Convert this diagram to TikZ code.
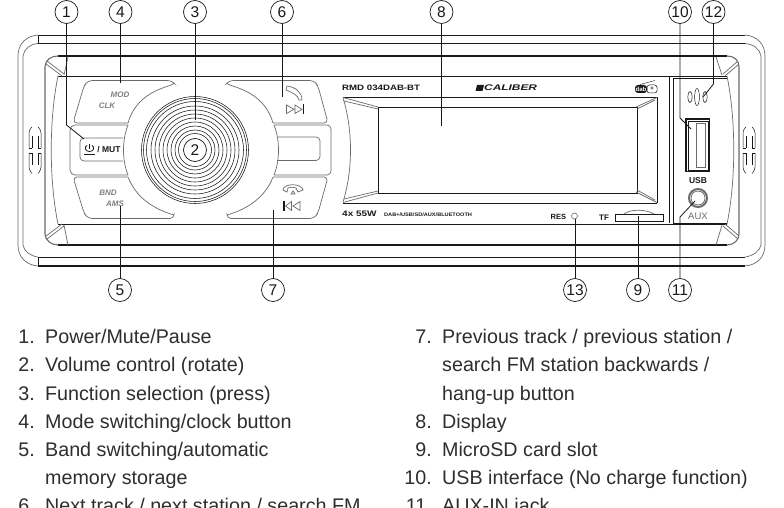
\documentclass[tikz,border=0pt]{standalone}
\usepackage{fontspec}
\usepackage{graphicx}
\setmainfont{Liberation Sans}
\definecolor{ink}{gray}{0.1}
\definecolor{txt}{gray}{0.18}
\definecolor{btn}{gray}{0.42}
\definecolor{lab}{gray}{0.5}
\newcommand{\wide}[2]{\scalebox{#1}[1]{#2}}
\tikzset{
  mk/.style={draw=ink,circle,line width=0.7pt,minimum size=23pt,inner sep=0pt,fill=white,font=\fontsize{15.5}{15.5}\selectfont,text=ink},
  lead/.style={draw=ink,line width=0.8pt},
  hair/.style={draw=ink,line width=0.8pt},
  heavy/.style={draw=ink,line width=1.8pt},
  soft/.style={draw=btn,line width=0.7pt},
  softb/.style={draw=btn,line width=1.1pt},
  num/.style={anchor=base east,inner sep=0pt,text=txt,font=\fontsize{19.7}{19.7}\selectfont},
  item/.style={anchor=base west,inner sep=0pt,text=txt,font=\fontsize{19.7}{19.7}\selectfont},
  tiny/.style={inner sep=0pt,text=ink},
  btncap/.style={inner sep=0pt,text=lab,font=\fontsize{8}{8}\itshape\bfseries\selectfont}
}
\begin{document}
\begin{tikzpicture}[x=1pt,y=-1pt]
\useasboundingbox (0,0) rectangle (784,508);
\clip (0,0) rectangle (784,508);
\fill[white] (0,0) rectangle (784,508);
% outer frame
\draw[hair] (38,35) -- (745,35);
\draw[hair] (38,43.5) -- (745,43.5);
\draw[hair] (38,257) -- (745,257);
\draw[heavy] (38,266) -- (745,266);
\draw[hair] (38,35) -- (38,43.5) (38,257) -- (38,266);
\draw[soft] (38,35) .. controls (26,36) and (18,44) .. (18,56) -- (18,245) .. controls (18,257) and (26,265) .. (38,266);
\draw[soft] (38,43.5) .. controls (30,44) and (24,49) .. (23,56) -- (23,245) .. controls (24,251) and (30,256) .. (38,257);
\draw[soft] (745,35) .. controls (757,36) and (765,44) .. (765,56) -- (765,245) .. controls (765,257) and (757,265) .. (745,266);
\draw[soft] (745,43.5) .. controls (753,44) and (760,49) .. (761,56) -- (761,245) .. controls (760,251) and (753,256) .. (745,257);
% bezel
\draw[heavy] (58,56) -- (727,56);
\draw[heavy] (58,245) -- (727,245);
\draw[hair] (58,76) -- (727,76);
\draw[hair] (58,224) -- (727,224);
\draw[softb] (58,56) .. controls (51,56) and (45,60) .. (45,67) -- (45,234) .. controls (45,240) and (51,245) .. (58,245);
\draw[soft] (58,76) .. controls (49,120) and (49,180) .. (58,224);
\draw[softb] (727,56) .. controls (734,56) and (739,60) .. (739,67) -- (739,234) .. controls (739,240) and (734,245) .. (727,245);
\draw[soft] (727,76) .. controls (736,120) and (736,180) .. (727,224);
\draw[soft] (46,64) -- (62,76) (47,61) -- (64,74) (68,57) -- (64,75);
\draw[soft] (46,236) -- (62,224) (47,239) -- (64,226) (68,245) -- (64,225);
\draw[soft] (739,64) -- (725,76) (738,61) -- (723,74) (716,57) -- (722,75);
\draw[soft] (739,236) -- (725,224) (738,239) -- (723,226) (716,245) -- (722,225);
% panel separators
\draw[hair] (669,77) -- (669,223);
\draw[hair] (673,78) -- (727,78);
\draw[hair] (673,78) -- (673,223);
\draw[hair] (673,223) -- (727,223);
% side slots
\foreach \sx in {29,743}{
  \draw[ink,line width=0.5pt,rounded corners=3pt] (\sx,148) -- (\sx,130) -- (\sx+3,127) (\sx+12,148) -- (\sx+12,130) -- (\sx+9,127);
  \draw[ink,line width=0.5pt] (\sx+3,136) -- (\sx+3,148) (\sx+9,136) -- (\sx+9,148) (\sx,148) -- (\sx+3,148) (\sx+9,148) -- (\sx+12,148);
  \draw[ink,line width=0.5pt,rounded corners=3pt] (\sx,153) -- (\sx,170) -- (\sx+3,173.5) (\sx+12,153) -- (\sx+12,170) -- (\sx+9,173.5);
  \draw[ink,line width=0.5pt] (\sx+3,153) -- (\sx+3,165) (\sx+9,153) -- (\sx+9,165) (\sx,153) -- (\sx+3,153) (\sx+9,153) -- (\sx+12,153);
}
% display
\draw[hair] (343,97.5) -- (657,97.5);
\draw[hair] (343,203) -- (657,203);
\draw[hair] (378,107.5) rectangle (637,193);
\draw[hair] (657,97.5) -- (657,203);
\draw[soft] (343,98) .. controls (353,130) and (353,170) .. (343,202);
\draw[soft] (343,97.5) -- (378,107) (344,101) -- (378,109);
\draw[soft] (343,202.5) -- (378,193) (344,199) -- (378,191);
\draw[soft] (657,97.5) -- (636,107) (655,100) -- (637,109);
\draw[soft] (657,202.5) -- (636,192) (655,200) -- (637,190);
% buttons
\draw[soft,rounded corners=4pt] (174,83) -- (172,80.5) -- (88,80.5) -- (84,86) -- (73,123) -- (128,123);
\draw[soft] (174,83) .. controls (174,87) and (138,88) .. (128,123);
\draw[soft,rounded corners=4pt] (174,215) -- (174,218.5) -- (88,218.5) -- (84,213) -- (73,177) -- (128,177);
\draw[soft] (174,215) .. controls (150,208) and (135,195) .. (128,177);
\draw[soft,rounded corners=4pt] (227,83) -- (229,80.5) -- (314,80.5) -- (318,86) -- (328,123) -- (273,123);
\draw[soft] (227,83) .. controls (227,87) and (263,88) .. (273,123);
\draw[soft,rounded corners=4pt] (227,215) -- (227,218.5) -- (314,218.5) -- (318,213) -- (328,177) -- (273,177);
\draw[soft] (227,215) .. controls (251,208) and (266,195) .. (273,177);
% centre bar
\draw[soft,rounded corners=5pt] (128,125) -- (70,125) -- (70,175) -- (128,175);
\draw[soft] (128,125) .. controls (122,140) and (122,160) .. (128,175);
\draw[soft,rounded corners=4pt] (123,138) -- (80,138) -- (80,161) -- (123,161);
\draw[soft,rounded corners=4pt] (274,125) -- (331,125) -- (331,175) -- (274,175);
\draw[soft] (274,125) .. controls (280,140) and (280,160) .. (274,175);
\draw[soft,rounded corners=4pt] (278,137) -- (320,137) -- (320,160.5) -- (277,160.5);
% knob
\foreach \rr in {53.5,51.5,48.5,44,40,36,32,28,24,20,16.5}{
  \draw[draw=ink,line width=0.55pt] (195,150) circle[radius=\rr];
}
% button captions
\node[btncap] (tmod) at (120,95) {MOD};
\node[btncap] (tclk) at (107,105.5) {CLK};
\node[btncap] (tbnd) at (108,192.5) {BND};
\node[btncap] (tams) at (115,204) {AMS};
\node[tiny,font=\fontsize{8.5}{8.5}\bfseries\selectfont] (tmut) at (109,150) {/ MUT};
% power icon
\draw[ink,line width=0.8pt] (87,145.5) .. controls (84,147) and (85,151.5) .. (89.5,151.5) .. controls (94,151.5) and (95,147) .. (92,145.5);
\draw[ink,line width=0.8pt] (89.5,143.5) -- (89.5,148.5) (84,154) -- (95,154);
% next icons
\draw[soft] (287,86) .. controls (295,87) and (302,92) .. (302,100) -- (299,100) .. controls (298,95) and (293,93) .. (286,90) -- cycle;
\draw[soft] (286.5,105) -- (286.5,113.5) -- (294,109.3) -- cycle (295,105) -- (295,113.5) -- (302,109.3) -- cycle;
\draw[ink,line width=1.5pt] (303.5,104.5) -- (303.5,114);
% prev icons
\draw[soft] (283,190) .. controls (283,183) and (302,183) .. (303,190) -- (298,192) -- (296,188) .. controls (292,187) and (290,187) .. (288,188) -- (287,192) -- cycle;
\draw[soft] (293,191) -- (291,194) -- (295,194) -- cycle;
\draw[ink,line width=1.5pt] (284,201) -- (284,211);
\draw[soft] (291.5,201.5) -- (291.5,210.5) -- (285.5,206) -- cycle (300,201.5) -- (300,210.5) -- (293,206) -- cycle;
% front print
\node[tiny,anchor=west,font=\fontsize{7.8}{7.8}\bfseries\selectfont] (tmodel) at (342,88) {\wide{1.24}{RMD 034DAB-BT}};
\node[tiny,anchor=west,font=\fontsize{8.2}{8.2}\bfseries\itshape\selectfont] (tbrand) at (484,88) {\wide{1.45}{CALIBER}};
\fill[ink] (477,85) -- (484,85) -- (482.5,91) -- (475.5,91) -- cycle;
\fill[ink,rounded corners=3pt] (635,85) rectangle (647,93);
\draw[ink,line width=0.5pt,rounded corners=2.5pt] (647,85) rectangle (657,93);
\draw[ink,line width=0.4pt] (640,84.5) -- (655,80.5);
\node[tiny,text=white,font=\fontsize{6}{6}\bfseries\selectfont] (tdab) at (641,89) {dab};
\node[tiny,font=\fontsize{6}{6}\bfseries\selectfont] (tplus) at (652,89) {+};
\node[tiny,anchor=west,font=\fontsize{8}{8}\bfseries\selectfont] (tpow) at (342,213.5) {\wide{1.25}{4x 55W}};
\node[tiny,anchor=west,font=\fontsize{5}{5}\bfseries\selectfont] (tsrc) at (384,214.5) {\wide{1.12}{DAB+/USB/SD/AUX/BLUETOOTH}};
\node[tiny,anchor=west,font=\fontsize{7.5}{7.5}\bfseries\selectfont] (tres) at (550.5,216.5) {RES};
\draw[btn,line width=0.6pt] (574.5,216) circle[radius=3];
\node[tiny,anchor=west,font=\fontsize{8}{8}\bfseries\selectfont] (ttf) at (599,218) {TF};
\draw[hair] (615,214.5) rectangle (663.5,221.5);
\draw[soft] (624,214) .. controls (630,209) and (646,209) .. (654,214);
% usb and aux
\draw[ink,line width=1.7pt] (686,119) rectangle (709.5,171.5);
\draw[ink,line width=0.5pt] (687.8,121) rectangle (707.8,170);
\draw[soft] (696,123) rectangle (705,167.5);
\node[tiny,font=\fontsize{8.5}{8.5}\bfseries\selectfont] (tusb) at (698,181) {USB};
\draw[btn,line width=2pt] (698,198) circle[radius=9];
\draw[ink,line width=0.4pt] (698,198) circle[radius=7];
\node[tiny,text=btn,font=\fontsize{9.5}{9.5}\selectfont] (taux) at (698,216.5) {AUX};
% small grille
\draw[ink,line width=0.5pt] (690,97) ellipse[x radius=2.2,y radius=5.5];
\draw[ink,line width=0.5pt] (697,97) ellipse[x radius=2.4,y radius=8.5];
\draw[ink,line width=0.5pt] (705,97) ellipse[x radius=2.2,y radius=5.5];
% markers
\node[mk] (m1) at (66.5,12) {1};
\node[mk] (m4) at (120.5,12) {4};
\node[mk] (m3) at (195,12) {3};
\node[mk] (m6) at (282,12) {6};
\node[mk] (m8) at (441.5,12) {8};
\node[mk] (m10) at (680,12) {10};
\node[mk] (m12) at (713.5,12) {12};
\node[mk] (m5) at (120,290) {5};
\node[mk] (m7) at (273,290) {7};
\node[mk] (m13) at (575,290) {13};
\node[mk] (m9) at (638,290) {9};
\node[mk] (m11) at (680,290) {11};
\node[mk] (m2) at (195,150) {2};
% connectors
\coordinate (e1a) at (66.5,125); \coordinate (e1) at (84,139);
\coordinate (e4) at (120.5,83); \coordinate (e3) at (195,120);
\coordinate (e6) at (282,97); \coordinate (e8) at (441.5,126);
\coordinate (e10a) at (680,118); \coordinate (e10) at (691,129);
\coordinate (e12a) at (713.5,84); \coordinate (e12) at (703,97);
\coordinate (e5) at (120,206); \coordinate (e7) at (273,210);
\coordinate (e13) at (575,219); \coordinate (e9) at (638,216);
\coordinate (e11a) at (680,217); \coordinate (e11) at (695,201);
\draw[lead] (m1) -- (e1a) -- (e1);
\draw[lead] (m4) -- (e4);
\draw[lead] (m3) -- (e3);
\draw[lead] (m6) -- (e6);
\draw[lead] (m8) -- (e8);
\draw[lead] (m10) -- (e10a) -- (e10);
\draw[lead] (m12) -- (e12a) -- (e12);
\draw[lead] (m5) -- (e5);
\draw[lead] (m7) -- (e7);
\draw[lead] (m13) -- (e13);
\draw[lead] (m9) -- (e9);
\draw[lead] (m11) -- (e11a) -- (e11);
% list, left
\node[num] (n1) at (35,343.5) {1.}; \node[item] (i1) at (45,343.5) {Power/Mute/Pause};
\node[num] (n2) at (35,371.5) {2.}; \node[item] (i2) at (45,371.5) {Volume control (rotate)};
\node[num] (n3) at (35,400) {3.}; \node[item] (i3) at (45,400) {Function selection (press)};
\node[num] (n4) at (35,428) {4.}; \node[item] (i4) at (45,428) {Mode switching/clock button};
\node[num] (n5) at (35,456) {5.}; \node[item] (i5) at (45,456) {Band switching/automatic};
\node[item] (i5b) at (45,484) {memory storage};
\node[num] (n6) at (35,512) {6.}; \node[item] (i6) at (45,512) {Next track / next station / search FM};
% list, right
\node[num] (n7) at (432,343.5) {7.}; \node[item] (i7) at (442,343.5) {Previous track / previous station /};
\node[item] (i7b) at (442,371.5) {search FM station backwards /};
\node[item] (i7c) at (442,400) {hang-up button};
\node[num] (n8) at (432,428) {8.}; \node[item] (i8) at (442,428) {Display};
\node[num] (n9) at (432,456) {9.}; \node[item] (i9) at (442,456) {MicroSD card slot};
\node[num] (n10) at (432,484) {10.}; \node[item] (i10) at (442,484) {USB interface (No charge function)};
\node[num] (n11) at (432,512) {11.}; \node[item] (i11) at (442,512) {AUX-IN jack};
\end{tikzpicture}
\end{document}
